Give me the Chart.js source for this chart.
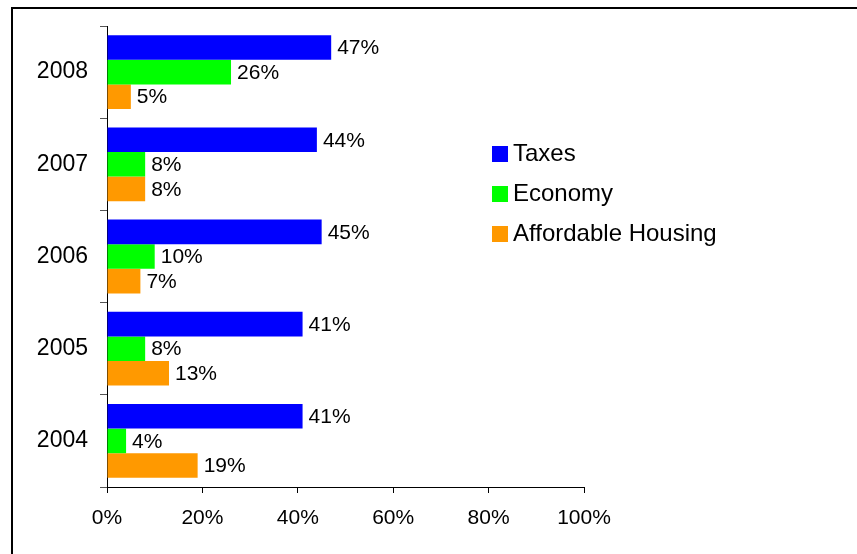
<!DOCTYPE html>
<html>
<head>
<meta charset="utf-8">
<script src="https://cdn.jsdelivr.net/npm/chart.js@4"></script>
<style>
  html, body { margin: 0; padding: 0; background: #fff; }
  #wrap { position: relative; width: 857px; height: 554px; overflow: hidden; }
  #frame { position: absolute; left: 11px; top: 7px; width: 900px; height: 600px;
           border-left: 2px solid #000; border-top: 2px solid #000; box-sizing: border-box; }
  canvas { position: absolute; left: 0; top: 0; }
</style>
</head>
<body>
<div id="wrap">
  <div id="frame"></div>
  <canvas id="chart" width="857" height="554"></canvas>
</div>
<script>
const years = ['2008', '2007', '2006', '2005', '2004'];
const taxes = [47, 44, 45, 41, 41];
const economy = [26, 8, 10, 8, 4];
const housing = [5, 8, 7, 13, 19];
const xTicks = [0, 20, 40, 60, 80, 100];

const FONT = '"Liberation Sans", Arial, sans-serif';

// value labels at the end of each bar
const barLabels = {
  id: 'barLabels',
  afterDatasetsDraw(chart) {
    const ctx = chart.ctx;
    ctx.save();
    ctx.font = '21px ' + FONT;
    ctx.fillStyle = '#000';
    ctx.textBaseline = 'middle';
    ctx.textAlign = 'left';
    chart.data.datasets.forEach((ds, i) => {
      chart.getDatasetMeta(i).data.forEach((bar, j) => {
        ctx.fillText(ds.data[j] + '%', bar.x + 6, bar.y + 1);
      });
    });
    ctx.restore();
  }
};

// legend drawn by hand so it sits where the original one is
const sideLegend = {
  id: 'sideLegend',
  afterDraw(chart) {
    const ctx = chart.ctx;
    ctx.save();
    ctx.font = '24px ' + FONT;
    ctx.textBaseline = 'middle';
    chart.data.datasets.forEach((ds, i) => {
      const y = 154 + i * 40;
      ctx.fillStyle = ds.backgroundColor;
      ctx.fillRect(492, y - 8, 16, 16);
      ctx.fillStyle = '#000';
      ctx.fillText(ds.label, 513, y);
    });
    ctx.restore();
  }
};

new Chart(document.getElementById('chart'), {
  type: 'bar',
  data: {
    labels: years,
    datasets: [
      { label: 'Taxes', data: taxes, backgroundColor: '#0000FF' },
      { label: 'Economy', data: economy, backgroundColor: '#00FF00' },
      { label: 'Affordable Housing', data: housing, backgroundColor: '#FF9900' },
    ],
  },
  options: {
    indexAxis: 'y',
    responsive: false,
    animation: false,
    categoryPercentage: 0.8,
    barPercentage: 1.0,
    layout: { padding: { top: 26, right: 273, left: 0, bottom: 0 } },
    plugins: {
      legend: { display: false },
      tooltip: { enabled: false },
    },
    scales: {
      x: {
        min: 0,
        max: 100,
        afterBuildTicks: (s) => { s.ticks = xTicks.map(v => ({ value: v })); },
        afterFit: (s) => { s.height = 67; },
        grid: { drawOnChartArea: false, drawTicks: true, tickLength: 6, color: '#000' },
        border: { color: '#000', width: 1 },
        ticks: {
          padding: 13,
          color: '#000',
          font: { family: FONT, size: 21 },
          callback: (v) => v + '%',
        },
      },
      y: {
        afterFit: (s) => { s.width = 107; },
        grid: { drawOnChartArea: false, drawTicks: true, tickLength: 7, offset: true, color: '#555' },
        border: { color: '#000', width: 1 },
        ticks: {
          padding: 12,
          color: '#000',
          font: { family: FONT, size: 23 },
        },
      },
    },
  },
  plugins: [barLabels, sideLegend],
});
</script>
</body>
</html>
